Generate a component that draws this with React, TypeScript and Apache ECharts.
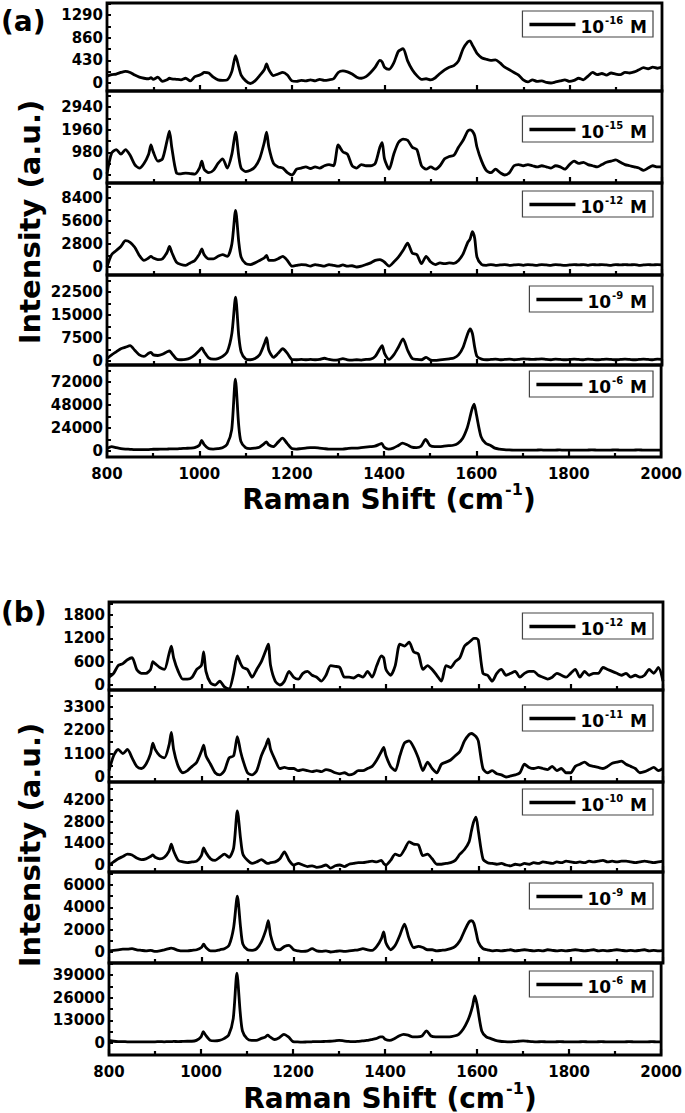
import React, { useEffect, useRef } from "react";
import * as echarts from "echarts";

// Raman shift sample positions (cm-1)
const ramanShift = [
  800, 810, 820, 830, 840, 850, 860, 870, 880, 890,
  895, 900, 910, 920, 930, 935, 940, 950, 960, 970,
  980, 990, 1000, 1005, 1010, 1020, 1030, 1040, 1050, 1060,
  1070, 1078, 1085, 1090, 1100, 1110, 1120, 1130, 1140, 1145,
  1150, 1160, 1170, 1180, 1190, 1200, 1210, 1220, 1230, 1240,
  1250, 1260, 1270, 1280, 1290, 1300, 1310, 1320, 1330, 1340,
  1350, 1360, 1370, 1380, 1390, 1395, 1400, 1410, 1420, 1430,
  1440, 1450, 1460, 1470, 1480, 1490, 1500, 1510, 1520, 1530,
  1540, 1550, 1560, 1570, 1580, 1585, 1590, 1595, 1600, 1610,
  1620, 1630, 1640, 1650, 1660, 1670, 1680, 1690, 1700, 1710,
  1720, 1730, 1740, 1750, 1760, 1770, 1780, 1790, 1800, 1810,
  1820, 1830, 1840, 1850, 1860, 1870, 1880, 1890, 1900, 1910,
  1920, 1930, 1940, 1950, 1960, 1970, 1980, 1990, 2000,
];

// Panel (a)
const a_1e16 = [
  130, 160, 170, 200, 220, 200, 150, 110, 90, 80,
  100, 70, 110, 30, 60, 90, 80, 70, 60, 90,
  40, 120, 150, 170, 200, 190, 110, 60, 50, 60,
  220, 520, 300, 150, 40, -10, 40, 140, 250, 360,
  250, 140, 170, 200, 150, 40, 30, 50, 40, 60,
  40, 70, 50, 60, 80, 200, 230, 210, 170, 110,
  90, 120, 200, 300, 430, 400, 300, 260, 380, 600,
  650, 420, 250, 140, 70, 80, 60, 100, 180, 250,
  300, 330, 420, 650, 780, 800, 720, 640, 560, 480,
  450, 430, 440, 380, 300, 250, 200, 150, 60, 20,
  60, 30, 40, 10, 0, 20, 40, 60, 30, 50,
  90, 60, 130, 200, 160, 180, 150, 190, 170, 160,
  200, 190, 210, 250, 290, 270, 300, 280, 300,
];
const a_1e15 = [
  50, 950, 1100, 900, 1100, 850, 450, 300, 500, 900,
  1300, 1000, 600, 700, 1500, 1900, 1200, 100, 50, 80,
  60, 40, 300, 600, 250, 100, 200, 500, 700, 300,
  900, 1850, 800, 300, 150, 200, 350, 700, 1400, 1850,
  1200, 500, 350, 300, 100, 0, 250, 300, 350, 280,
  350, 300, 400, 450, 400, 1300, 1000, 900, 400, 300,
  450, 400, 400, 500, 1200, 1400, 700, 250, 900, 1400,
  1550, 1500, 1200, 1100, 400, 250, 350, 250, 400, 700,
  800, 850, 1200, 1500, 1900, 1950, 1900, 1700, 1200, 600,
  200, 100, 250, 100, 0, 100, 400, 450, 400, 450,
  400, 350, 400, 350, 300, 400, 350, 250, 450, 600,
  500, 550, 450, 400, 350, 450, 550, 600, 650, 550,
  450, 400, 350, 300, 200, 300, 400, 350, 350,
];
const a_1e12 = [
  0, 1500, 2000, 2500, 3200, 3000, 2400, 1400, 800, 1100,
  1300, 1100, 900, 1000, 1800, 2500, 1800, 600, 300, 200,
  500, 800, 1600, 2200, 1500, 1000, 1000, 1300, 1500, 1300,
  2800, 6900, 3000, 1200, 400, 300, 500, 800, 1100, 1400,
  800, 800, 1000, 1300, 800, 100, 200, 300, 250, 100,
  300, 200, 100, 300, 200, 100, 250, 100, 150, 0,
  100, 300, 500, 800, 900, 800, 600, 100, 600, 1200,
  2000, 2900, 1700, 1500, 400, 1300, 600, 300, 500, 400,
  500, 450, 800, 1600, 3000, 3400, 4300, 3500, 1200, 300,
  200, 300, 200, 250, 300, 200, 250, 300, 200, 300,
  250, 200, 300, 250, 200, 300, 250, 200, 250, 300,
  250, 300, 200, 300, 250, 300, 250, 200, 300, 250,
  300, 250, 300, 200, 250, 300, 250, 300, 250,
];
const a_1e9 = [
  800, 2000, 3000, 4000, 4500, 5000, 3500, 2000, 1500, 2500,
  2800, 2000, 1800, 2200, 3000, 3300, 2500, 700, 400, 500,
  1000, 2000, 3500, 4300, 3000, 1000, 600, 800, 1500, 3000,
  9000, 20800, 8000, 3000, 600, 400, 800, 2000, 5500, 7600,
  3500, 1200, 2500, 4000, 2500, 500, 400, 500, 400, 500,
  400, 500, 900, 500, 300, 400, 800, 400, 300, 400,
  300, 500, 600, 1500, 4000, 5000, 2500, 500, 2000, 4500,
  7200, 3500, 800, 500, 400, 1200, 300, 200, 400, 500,
  700, 1000, 2000, 4500, 9000, 10500, 9000, 4500, 1500, 600,
  400, 500, 600, 400, 500, 600, 400, 500, 700, 600,
  500, 600, 700, 500, 400, 600, 500, 400, 500, 600,
  500, 400, 600, 500, 400, 500, 600, 500, 400, 500,
  600, 500, 400, 500, 600, 500, 400, 600, 500,
];
const a_1e6 = [
  2500, 4500, 3500, 2500, 2000, 1800, 1500, 1500, 1500, 1500,
  1600, 1800, 1800, 2000, 2000, 2200, 2200, 2200, 2500, 2800,
  3000, 3500, 6000, 11000, 7000, 2500, 2000, 2500, 3500, 7000,
  22000, 75000, 28000, 10000, 3500, 2500, 3000, 4000, 7500, 9500,
  6500, 4500, 9000, 13500, 8000, 2500, 2000, 2500, 3000, 3500,
  3500, 3000, 2500, 2000, 2000, 2000, 2000, 2500, 3000, 3000,
  3500, 4000, 4500, 5000, 7000, 8000, 4000, 2000, 3000, 5500,
  8300, 6500, 4000, 3500, 5000, 12000, 5500, 4500, 4500, 5000,
  5500, 6000, 8000, 13000, 24000, 33000, 43000, 49000, 38000, 15000,
  8000, 6000, 3000, 2000, 1500, 1200, 1000, 1000, 1000, 1000,
  900, 1000, 1100, 900, 1000, 1000, 1100, 900, 1000, 1000,
  1000, 900, 1000, 1100, 1000, 900, 1000, 1000, 1100, 1000,
  900, 1000, 1000, 1100, 1000, 900, 1000, 1000, 900,
];

// Panel (b)
const b_1e12 = [
  200, 300, 500, 550, 650, 700, 400, 300, 300, 400,
  600, 550, 450, 400, 800, 1000, 700, 350, 150, 150,
  200, 400, 500, 850, 350, 50, 0, 100, -50, -100,
  300, 750, 550, 450, 400, 200, 400, 600, 900, 1050,
  500, 100, 0, 100, 350, 200, 150, 300, 350, 250,
  200, 100, 250, 500, 480, 450, 200, 200, 180, 250,
  200, 350, 200, 500, 750, 700, 400, 250, 500, 1050,
  1000, 1100, 850, 800, 400, 500, 400, 250, 100, 500,
  450, 600, 700, 1000, 1100, 1150, 1200, 1200, 1150, 300,
  250, 100, 300, 400, 250, 300, 350, 200, 300, 350,
  350, 250, 200, 150, 200, 300, 250, 200, 300, 400,
  200, 350, 250, 300, 300, 450, 400, 350, 300, 250,
  300, 200, 250, 200, 250, 400, 300, 450, 100,
];
const b_1e11 = [
  300, 1000, 1300, 1100, 1300, 900, 500, 400, 600, 1100,
  1600, 1300, 1000, 900, 1500, 2100, 1300, 500, 200, 300,
  500, 700, 1200, 1500, 1000, 600, 200, 100, 300, 900,
  1000, 1900, 1200, 800, 200, 100, 300, 1000, 1500, 1800,
  1300, 800, 400, 450, 400, 400, 300, 350, 300, 250,
  300, 250, 350, 300, 200, 150, 200, 100, 150, 300,
  300, 400, 500, 800, 1200, 1400, 1000, 500, 300, 1000,
  1600, 1700, 1400, 900, 300, 700, 400, 200, 600, 700,
  800, 1000, 1200, 1700, 2000, 2050, 2000, 1900, 1700, 400,
  200, 300, 150, 100, 0, 50, 100, 200, 600, 450,
  400, 450, 400, 350, 500, 300, 400, 200, 200, 500,
  600, 700, 550, 500, 450, 400, 500, 650, 700, 750,
  600, 500, 400, 200, 250, 350, 450, 300, 400,
];
const b_1e10 = [
  0, 200, 400, 550, 700, 650, 450, 350, 400, 550,
  650, 500, 400, 500, 900, 1350, 900, 300, 200, 150,
  200, 250, 600, 1100, 800, 400, 300, 500, 700, 500,
  1100, 3500, 1700, 700, 300, 100, 200, 350, 150, 100,
  150, 200, 400, 850, 300, 0, 100, 0, -100, -50,
  -150, -100, 0, -200, -50, 0, -100, 50, 100, 150,
  150, 200, 250, 200, 300, 100, 0, 300, 700, 600,
  1000, 1500, 1350, 1300, 600, 700, 400, 50, 50, 100,
  150, 300, 700, 1000, 1500, 2200, 2800, 3100, 2200, 400,
  150, 100, 50, 100, 0, -50, 50, 0, 100, 50,
  150, 100, 200, 150, 100, 200, 150, 250, 200, 150,
  200, 150, 250, 200, 250, 300, 200, 250, 200, 250,
  250, 200, 150, 200, 250, 200, 150, 200, 250,
];
const b_1e9 = [
  100, 150, 200, 250, 250, 300, 200, 150, 100, 150,
  100, 50, 100, 200, 300, 350, 300, 150, 100, 100,
  150, 200, 400, 700, 400, 100, 100, 200, 300, 600,
  2200, 5000, 2200, 700, 200, 150, 300, 900, 2000, 2800,
  1500, 300, 200, 500, 600, 200, 100, 50, 100, 300,
  100, 50, 100, 0, 50, 100, 50, 100, 150, 200,
  300, 200, 150, 500, 1200, 1800, 800, 200, 600, 1500,
  2500, 1200, 400, 500, 400, 200, 200, 100, 150, 200,
  300, 500, 1000, 1900, 2700, 2800, 2600, 1800, 900, 300,
  200, 100, 150, 100, 150, 200, 100, 150, 200, 150,
  100, 150, 100, 200, 150, 100, 150, 100, 150, 200,
  150, 100, 150, 200, 100, 150, 100, 150, 200, 150,
  100, 150, 100, 150, 200, 100, 150, 100, 150,
];
const b_1e6 = [
  1500, 1000, 800, 800, 700, 700, 600, 600, 600, 700,
  700, 700, 800, 700, 800, 800, 900, 800, 900, 1000,
  1000, 1500, 3500, 6500, 4500, 1500, 1200, 1500, 2500, 4500,
  14000, 40000, 18000, 7000, 2500, 1500, 1500, 2500, 3500, 4500,
  3500, 2000, 3000, 5000, 3500, 800, 600, 500, 600, 700,
  800, 800, 900, 1000, 1200, 1500, 1200, 900, 800, 900,
  1200, 1500, 2000, 2500, 3500, 3500, 2200, 1500, 2500, 4000,
  5000, 4500, 3500, 3500, 4000, 7000, 4000, 3500, 3500, 3500,
  3500, 4000, 5000, 8000, 13000, 16500, 21000, 27000, 22000, 7000,
  3500, 2500, 1500, 1000, 800, 700, 800, 1000, 1200, 1000,
  800, 700, 750, 700, 650, 700, 750, 700, 650, 700,
  700, 750, 700, 650, 700, 750, 700, 700, 650, 700,
  700, 750, 700, 650, 700, 700, 750, 700, 700,
];

// tick-label steps and axis ranges for each stacked plot
const aIntervals = [430, 980, 2800, 7500, 24000];
const bIntervals = [600, 1100, 1400, 2000, 13000];
const aRanges = [[-152, 1518], [-346, 3632], [-974, 10226], [-1304, 28043], [-6261, 89739]];
const bRanges = [[-129, 2134], [-236, 4101], [-452, 5363], [-985, 7164], [-6882, 45882]];
const aExponents = ["-16", "-15", "-12", "-9", "-6"];
const bExponents = ["-12", "-11", "-10", "-9", "-6"];
const aSeries = [a_1e16, a_1e15, a_1e12, a_1e9, a_1e6];
const bSeries = [b_1e12, b_1e11, b_1e10, b_1e9, b_1e6];
const xTickLabels = [800, 1000, 1200, 1400, 1600, 1800, 2000];

const FONT = '"DejaVu Sans", Verdana, sans-serif';

export default function App() {
  const ref = useRef<HTMLDivElement>(null);
  useEffect(() => {
    if (!ref.current) return;
    const chart = echarts.init(ref.current, null, { renderer: "svg" });

    const layouts = [
      { key: "a", left: 107, width: 555, tops: [3, 91, 183, 275, 365], heights: [88, 92, 92, 90, 92], legendTops: [11, 116, 191, 286, 371], intervals: aIntervals, ranges: aRanges, exps: aExponents, data: aSeries },
      { key: "b", left: 109, width: 554, tops: [602, 690, 782, 872, 963], heights: [88, 92, 90, 91, 92], legendTops: [613, 705, 789, 883, 971], intervals: bIntervals, ranges: bRanges, exps: bExponents, data: bSeries },
    ];

    const grid: any[] = [];
    const xAxis: any[] = [];
    const yAxis: any[] = [];
    const series: any[] = [];
    const legend: any[] = [];
    const expMap: Record<string, string> = {};
    const plain = (v: number) => String(v);

    layouts.forEach((L) => {
      for (let i = 0; i < 5; i++) {
        const idx = grid.length;
        grid.push({
          left: L.left, width: L.width, top: L.tops[i], height: L.heights[i],
          show: true, borderColor: "#000", borderWidth: 2.8, backgroundColor: "transparent",
        });
        const bottom = i === 4;
        xAxis.push({
          type: "value", gridIndex: idx, min: 800, max: 2000, interval: 200,
          axisLine: { show: false, onZero: false },
          axisTick: { show: true, inside: true, length: 6, lineStyle: { color: "#000", width: 2.2 } },
          minorTick: { show: true, splitNumber: 2, length: 4, lineStyle: { color: "#000", width: 2.2 } },
          splitLine: { show: false },
          axisLabel: {
            show: bottom, color: "#000", fontFamily: FONT, fontWeight: "bold", fontSize: 15, margin: 9,
            customValues: xTickLabels, formatter: plain,
          },
        });
        const iv = L.intervals[i];
        const [mn, mx] = L.ranges[i];
        const tickVals: number[] = [];
        for (let v = 0; v <= mx; v += iv / 2) tickVals.push(v);
        yAxis.push({
          type: "value", gridIndex: idx, min: mn, max: mx,
          axisLine: { show: false, onZero: false },
          axisTick: { show: true, inside: true, length: 4, lineStyle: { color: "#000", width: 2 }, customValues: tickVals },
          splitLine: { show: false },
          axisLabel: {
            show: true, color: "#000", fontFamily: FONT, fontWeight: "bold", fontSize: 15, margin: 4,
            customValues: [0, iv, 2 * iv, 3 * iv], formatter: plain,
          },
        });
        const name = `${L.key}${i}`;
        expMap[name] = L.exps[i];
        series.push({
          type: "line", name, xAxisIndex: idx, yAxisIndex: idx,
          data: ramanShift.map((x, k) => [x, L.data[i][k]]),
          showSymbol: false, symbol: "none", smooth: 0.25,
          lineStyle: { color: "#000", width: 2.8 }, itemStyle: { color: "#000" },
          silent: true, z: 3,
        });
        legend.push({
          data: [name], right: 32, top: L.legendTops[i], orient: "horizontal",
          icon: "rect", itemWidth: 46, itemHeight: 3.5,
          borderColor: "#444", borderWidth: 1.2, backgroundColor: "#fff",
          padding: [3, 6, 2, 7], selectedMode: false,
          formatter: (n: string) => `{b|10}{s|${expMap[n]}}{b| M}`,
          textStyle: {
            color: "#000", fontFamily: FONT, fontWeight: "bold",
            rich: {
              b: { fontSize: 17, fontWeight: "bold", fontFamily: FONT, color: "#000", lineHeight: 21, verticalAlign: "bottom" },
              s: { fontSize: 10, fontWeight: "bold", fontFamily: FONT, color: "#000", lineHeight: 21, verticalAlign: "top", padding: [1, 1, 0, 1] },
            },
          },
        });
      }
    });

    const titleStyle = { fontSize: 28, fontWeight: "bold", fontFamily: FONT, fill: "#000", lineHeight: 24, verticalAlign: "middle" };
    const supStyle = { fontSize: 16, fontWeight: "bold", fontFamily: FONT, fill: "#000", lineHeight: 16, verticalAlign: "middle", align: "left" };
    const xTitle = (x0: number, y: number) => [
      { type: "text", x: x0, y, style: { ...titleStyle, text: "Raman Shift (cm", align: "right" } },
      { type: "text", x: x0 + 1, y: y - 10, style: { ...supStyle, text: "-1" } },
      { type: "text", x: x0 + 19, y, style: { ...titleStyle, text: ")", align: "left" } },
    ];

    const graphic: any[] = [
      { type: "text", left: 1, top: 7, style: { text: "(a)", fontSize: 28, fontWeight: "bold", fontFamily: FONT, fill: "#000" } },
      { type: "text", left: 1, top: 598, style: { text: "(b)", fontSize: 28, fontWeight: "bold", fontFamily: FONT, fill: "#000" } },
      ...xTitle(504, 499),
      ...xTitle(505, 1098),
      { type: "text", x: 30, y: 222, rotation: Math.PI / 2, style: { text: "Intensity (a.u.)", fontSize: 29, fontWeight: "bold", fontFamily: FONT, fill: "#000", align: "center", verticalAlign: "middle" } },
      { type: "text", x: 30, y: 845, rotation: Math.PI / 2, style: { text: "Intensity (a.u.)", fontSize: 29, fontWeight: "bold", fontFamily: FONT, fill: "#000", align: "center", verticalAlign: "middle" } },
    ];

    chart.setOption({
      animation: false,
      backgroundColor: "#fff",
      grid, xAxis, yAxis, series, legend, graphic,
    });
    return () => chart.dispose();
  }, []);

  return <div ref={ref} style={{ position: "absolute", left: 0, top: 0, width: 685, height: 1113 }} />;
}
